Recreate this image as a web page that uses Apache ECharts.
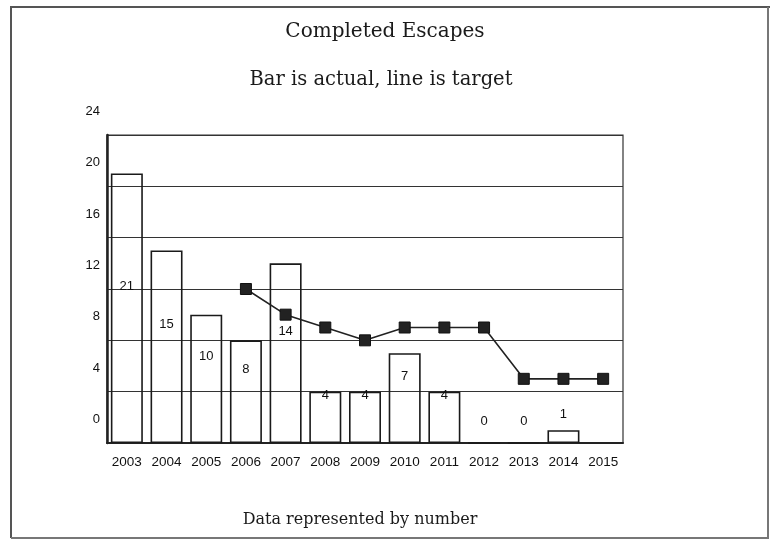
<!DOCTYPE html>
<html>
<head>
<meta charset="utf-8">
<script src="https://cdn.jsdelivr.net/npm/echarts@6/dist/echarts.min.js"></script>
<style>
  html, body { margin: 0; padding: 0; background: #fff; }
  #chart { width: 771px; height: 540px; }
</style>
</head>
<body>
<div id="chart"></div>
<script>
// Completed escapes per year: bars are actual counts, line is the target
const years = ['2003', '2004', '2005', '2006', '2007', '2008', '2009', '2010', '2011', '2012', '2013', '2014', '2015'];
const actual = [21, 15, 10, 8, 14, 4, 4, 7, 4, 0, 0, 1, null];
const target = [null, null, null, 12, 10, 9, 8, 9, 9, 9, 5, 5, 5];
const yTicks = { min: 0, max: 24, step: 4 };

const chart = echarts.init(document.getElementById('chart'));
const serif = '"DejaVu Serif", "Liberation Serif", serif';
const sans = '"Liberation Sans", Arial, sans-serif';

chart.setOption({
  animation: false,
  backgroundColor: '#fff',
  title: [
    { text: 'Completed Escapes', left: 380, top: 17, textAlign: 'center',
      textStyle: { fontFamily: serif, fontSize: 20, fontWeight: 'normal', color: '#1a1a1a' } },
    { text: 'Bar is actual, line is target', left: 376, top: 65, textAlign: 'center',
      textStyle: { fontFamily: serif, fontSize: 19.5, fontWeight: 'normal', color: '#1a1a1a' } },
    { text: 'Data represented by number', left: 355, top: 507, textAlign: 'center',
      textStyle: { fontFamily: serif, fontSize: 16, fontWeight: 'normal', color: '#1a1a1a' } }
  ],
  graphic: [
    { type: 'polyline', shape: { points: [[11, 538], [11, 7], [770, 7]] },
      style: { stroke: '#555', lineWidth: 2, fill: null } },
    { type: 'polyline', shape: { points: [[11, 538], [768, 538], [768, 7]] },
      style: { stroke: '#777', lineWidth: 2, fill: null } }
  ],
  grid: { left: 107, right: 148, top: 135, bottom: 97, show: true, borderColor: '#333', borderWidth: 1.2 },
  xAxis: {
    type: 'category',
    data: years,
    axisLine: { lineStyle: { color: '#222', width: 2 } },
    axisTick: { show: false },
    axisLabel: { interval: 0, hideOverlap: false, color: '#111', fontFamily: sans,
      fontSize: 13.5, margin: 12 }
  },
  yAxis: {
    type: 'value',
    min: yTicks.min, max: yTicks.max, interval: yTicks.step,
    axisLine: { show: true, lineStyle: { color: '#222', width: 2.5 } },
    axisTick: { show: false },
    splitLine: { lineStyle: { color: '#333', width: 1.2 } },
    axisLabel: { color: '#111', fontFamily: sans, fontSize: 13, margin: 7,
      verticalAlign: 'bottom', padding: [0, 0, 17, 0] }
  },
  series: [
    {
      type: 'bar',
      data: actual,
      barWidth: 32,
      itemStyle: { color: 'rgba(255,255,255,0)', borderColor: '#1a1a1a', borderWidth: 1.6 },
      label: { show: true, position: 'inside', offset: [0, -22], color: '#111',
        fontFamily: sans, fontSize: 13 },
      z: 2
    },
    {
      type: 'line',
      data: target,
      connectNulls: false,
      lineStyle: { color: '#222', width: 1.6 },
      symbol: 'rect',
      symbolSize: 11,
      itemStyle: { color: '#222', borderColor: '#111', borderWidth: 1 },
      z: 3
    }
  ]
});
</script>
</body>
</html>
